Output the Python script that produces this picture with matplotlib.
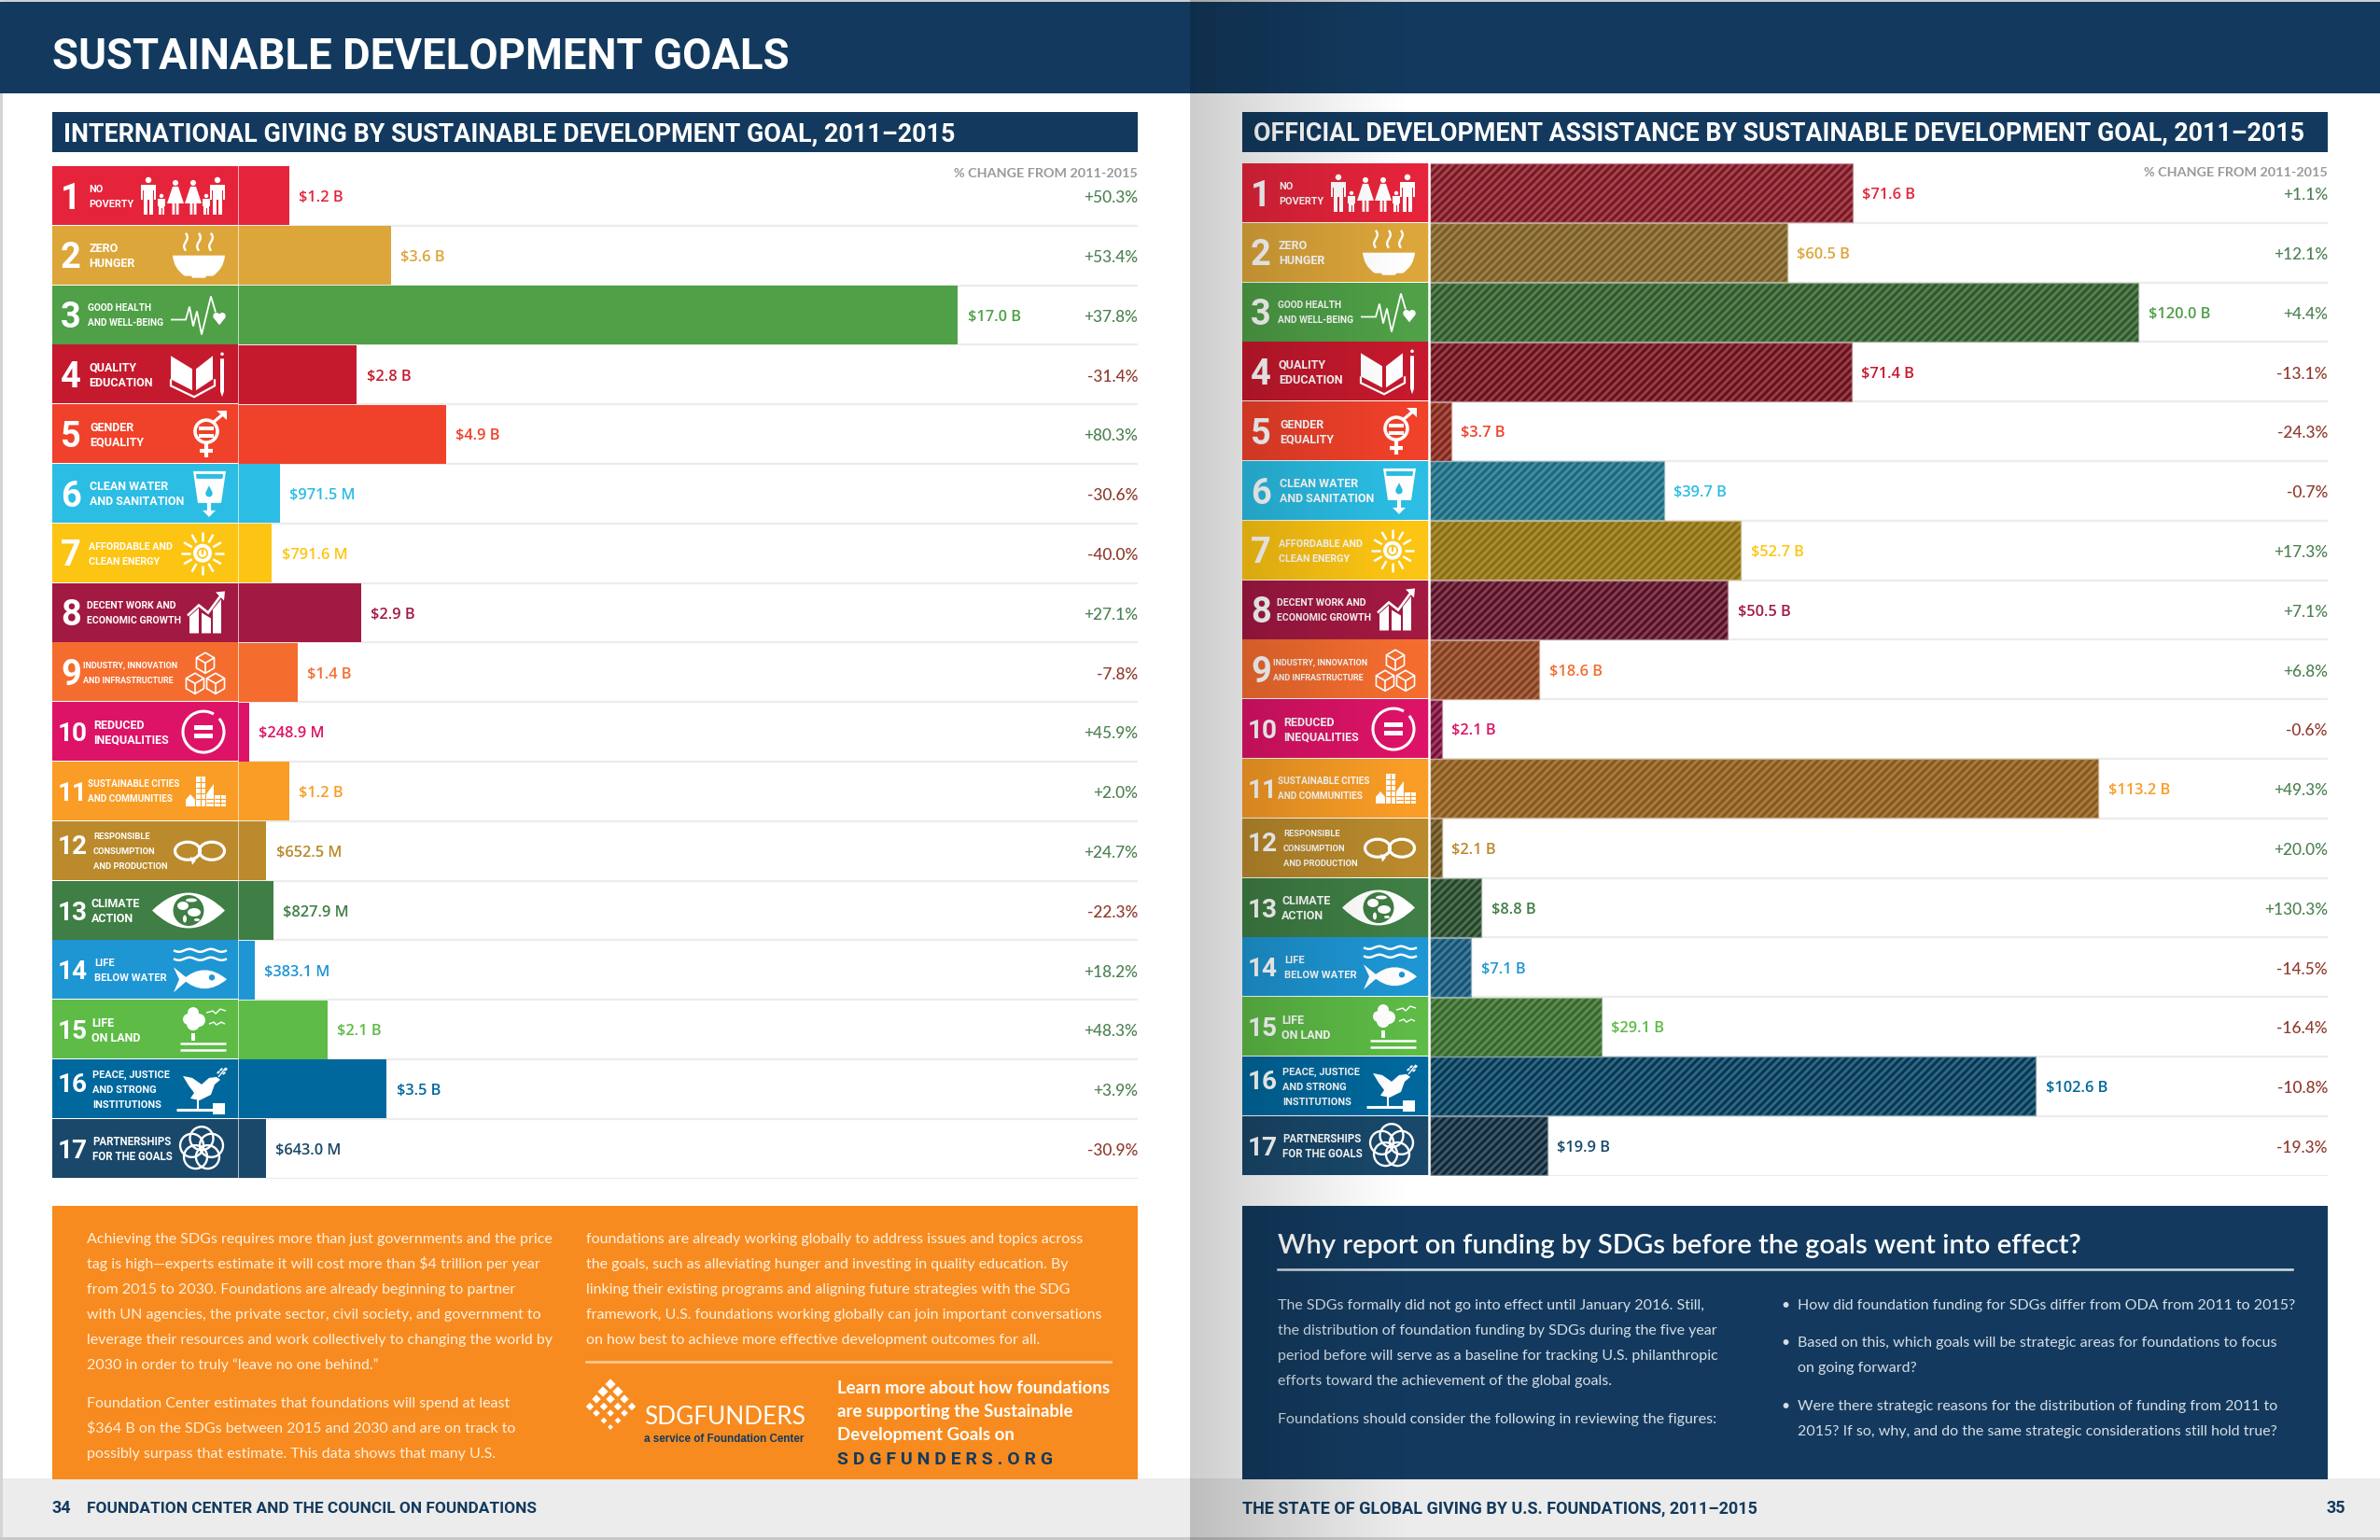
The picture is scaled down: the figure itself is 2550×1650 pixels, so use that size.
import numpy as np
import matplotlib
matplotlib.use("Agg")
import matplotlib.pyplot as plt
from matplotlib.patches import Rectangle, Polygon, Circle, Ellipse, Arc, PathPatch
from matplotlib.path import Path
from matplotlib.transforms import Affine2D

# ---------- data ----------
goal_numbers = list(range(1, 18))
goal_labels = [
    ["NO", "POVERTY"], ["ZERO", "HUNGER"], ["GOOD HEALTH", "AND WELL-BEING"],
    ["QUALITY", "EDUCATION"], ["GENDER", "EQUALITY"], ["CLEAN WATER", "AND SANITATION"],
    ["AFFORDABLE AND", "CLEAN ENERGY"], ["DECENT WORK AND", "ECONOMIC GROWTH"],
    ["INDUSTRY, INNOVATION", "AND INFRASTRUCTURE"], ["REDUCED", "INEQUALITIES"],
    ["SUSTAINABLE CITIES", "AND COMMUNITIES"], ["RESPONSIBLE", "CONSUMPTION", "AND PRODUCTION"],
    ["CLIMATE", "ACTION"], ["LIFE", "BELOW WATER"], ["LIFE", "ON LAND"],
    ["PEACE, JUSTICE", "AND STRONG", "INSTITUTIONS"], ["PARTNERSHIPS", "FOR THE GOALS"],
]
intl_values = [1.2, 3.6, 17.0, 2.8, 4.9, 0.9715, 0.7916, 2.9, 1.4, 0.2489, 1.2, 0.6525, 0.8279, 0.3831, 2.1, 3.5, 0.643]
intl_text = ["$1.2 B", "$3.6 B", "$17.0 B", "$2.8 B", "$4.9 B", "$971.5 M", "$791.6 M", "$2.9 B", "$1.4 B",
             "$248.9 M", "$1.2 B", "$652.5 M", "$827.9 M", "$383.1 M", "$2.1 B", "$3.5 B", "$643.0 M"]
intl_change = [50.3, 53.4, 37.8, -31.4, 80.3, -30.6, -40.0, 27.1, -7.8, 45.9, 2.0, 24.7, -22.3, 18.2, 48.3, 3.9, -30.9]
oda_values = [71.6, 60.5, 120.0, 71.4, 3.7, 39.7, 52.7, 50.5, 18.6, 2.1, 113.2, 2.1, 8.8, 7.1, 29.1, 102.6, 19.9]
oda_change = [1.1, 12.1, 4.4, -13.1, -24.3, -0.7, 17.3, 7.1, 6.8, -0.6, 49.3, 20.0, 130.3, -14.5, -16.4, -10.8, -19.3]

colors = ["#e5243b", "#dda63a", "#4fa047", "#c5192d", "#f0412a", "#2bbde4", "#fdc513", "#a21942", "#f46d2f",
          "#dd1367", "#f99d26", "#ba8a2c", "#3f7e44", "#1e96d4", "#5dbb46", "#00689d", "#19486a"]

# ---------- layout ----------
W, H = 2550, 1650
NAVY = "#133a5e"; ORANGE = "#f78b1f"; FOOT = "#ececec"
POS = "#4d8152"; NEG = "#8f3a2c"
LBL = "Roboto"
ROW_H = 63.8
label_u = [39, 39, 38, 39, 40, 40, 39, 37, 33, 44, 38, 44, 42, 45, 42, 43, 43]
icon_left = [94, 129, 127, 127, 150, 151, 137, 145, 142, 139, 143, 131, 107, 130, 137, 133, 136]
num_dv = {11: -7, 15: -7}

fig = plt.figure(figsize=(W / 100, H / 100), dpi=100, facecolor="white")
ov = fig.add_axes([0, 0, 1, 1], zorder=0)
ov.set_xlim(0, W); ov.set_ylim(H, 0); ov.axis("off"); ov.set_autoscale_on(False)
renderer = fig.canvas.get_renderer()


def T(x, y, s, px=16, color="white", ha="left", family="Lato", weight="normal", width=None, ax=None, zorder=5):
    """text whose vertical centre of capitals is at y; width optionally fits the font size."""
    t = (ax or ov).text(x, y, s, fontsize=px * 0.72, color=color, ha=ha, va="baseline",
                        family=family, fontweight=weight, zorder=zorder)
    if width is not None:
        w = t.get_window_extent(renderer).width
        px = px * width / w
        t.set_fontsize(px * 0.72)
    t.set_y(y + 0.36 * px)
    return px


def rect(x0, y0, x1, y1, c, z=1):
    ov.add_patch(Rectangle((x0, y0), x1 - x0, y1 - y0, fc=c, ec="none", zorder=z))


def fit_px(s, width, family="Lato", weight="normal"):
    t = ov.text(0, 0, s, fontsize=10, family=family, fontweight=weight)
    w = t.get_window_extent(renderer).width
    t.remove()
    return 10 / 0.72 * width / w


# ---------- page furniture ----------
rect(0, 0, W, 2, "#cfcfcf")
rect(0, 0, 3, H, "#d4d4d4")
rect(0, 2, W, 100, NAVY)
rect(3, 1584, W, H - 3, FOOT)
rect(0, H - 3, W, H, "#c8c8c8")
rect(56, 120, 1219, 163, NAVY)
rect(1331, 120, 2494, 163, NAVY)
rect(56, 1292, 1219, 1585, ORANGE, 2)
rect(1331, 1292, 2494, 1585, NAVY, 2)

T(56, 58, "SUSTAINABLE DEVELOPMENT GOALS", 46, weight="bold", family="Roboto", width=791)
T(68, 141.5, "INTERNATIONAL GIVING BY SUSTAINABLE DEVELOPMENT GOAL, 2011–2015", 25, weight="bold",
  family="Roboto", width=957)
T(1343, 141.5, "OFFICIAL DEVELOPMENT ASSISTANCE BY SUSTAINABLE DEVELOPMENT GOAL, 2011–2015", 25, weight="bold",
  family="Roboto", width=1129)


# ---------- icons ----------
def icon(i, x0, cy, col):
    t = Affine2D().translate(x0, cy) + ov.transData

    def poly(pts, fc="white"):
        ov.add_patch(Polygon(pts, closed=True, fc=fc, ec="none", transform=t, zorder=3))

    def circ(x, y, r, fc="white", ec="none", lw=0):
        ov.add_patch(Circle((x, y), r, fc=fc, ec=ec, lw=lw, transform=t, zorder=3))

    def ln(xs, ys, lw=1.5, c="white"):
        ov.plot(xs, ys, color=c, lw=lw, transform=t, zorder=3, solid_capstyle="butt", solid_joinstyle="miter")

    def man(u):
        circ(u, -17, 3.2)
        poly([(u - 8, -12), (u + 8, -12), (u + 8, 4), (u + 6, 4), (u + 6, -6), (u + 5, -6), (u + 5, 20), (u + .7, 20),
              (u + .7, 4), (u - .7, 4), (u - .7, 20), (u - 5, 20), (u - 5, -6), (u - 6, -6), (u - 6, 4), (u - 8, 4)])

    def woman(u):
        circ(u, -14, 3)
        poly([(u - 3, -10), (u + 3, -10), (u + 9, 8), (u + 3.5, 8), (u + 3.5, 20), (u + .7, 20), (u + .7, 8),
              (u - .7, 8), (u - .7, 20), (u - 3.5, 20), (u - 3.5, 8), (u - 9, 8)])

    def kid(u):
        circ(u, 0, 2.2)
        poly([(u - 4, 3), (u + 4, 3), (u + 4, 11), (u + 2.6, 11), (u + 2.6, 20), (u + .5, 20), (u + .5, 13), (u - .5, 13),
              (u - .5, 20), (u - 2.6, 20), (u - 2.6, 11), (u - 4, 11)])

    def heart(u, v, s):
        circ(u - s * .48, v - s * .3, s * .55)
        circ(u + s * .48, v - s * .3, s * .55)
        poly([(u - s, v - .05 * s), (u + s, v - .05 * s), (u, v + 1.2 * s)])

    def drop(u, v, s, fc):
        circ(u, v + s * .3, s * .62, fc=fc)
        poly([(u - s * .55, v), (u + s * .55, v), (u, v - s * 1.1)], fc=fc)

    if i == 0:
        man(103); woman(132); woman(151); man(177); kid(117); kid(165)
    elif i == 1:
        ov.add_patch(PathPatch(Path([(129, 0), (185, 0), (184, 14), (172, 22), (142, 22), (130, 14), (129, 0)],
                                    [1, 2, 3, 3, 2, 3, 3]),
                               fc="white", ec="none", transform=t, zorder=3))
        poly([(148, 20), (166, 20), (164, 24), (150, 24)])
        for u in (143, 157, 170):
            v = np.linspace(-24, -5, 30)
            ln(u + 1.8 * np.sin((v + 24) / 19 * 2 * np.pi), v, 1.7)
    elif i == 2:
        ln([127, 143, 147, 151, 155, 160, 170, 175], [5, 5, -9, 12, -4, 21, -20, -3], 1.3)
        heart(179, 3, 6.5)
    elif i == 3:
        poly([(127, -20), (150, -6), (150, 17), (127, 5)])
        poly([(154, -6), (172, -20), (172, 5), (154, 17)])
        ln([127, 127, 152, 174, 174], [5, 12, 24, 12, 5], 1.6)
        poly([(180, -17), (184, -17), (184, 18), (182, 24), (180, 18)])
        circ(182, -22, 1.8)
    elif i == 4:
        circ(165, -3, 12, fc="none", ec="white", lw=2.6)
        for a, b, c, d in [(157, -8, 173, -4), (157, 0, 173, 4)]:
            poly([(a, b), (c, b), (c, d), (a, d)])
        ln([173, 186], [-13, -24], 2.4)
        poly([(176, -25), (187, -25), (187, -15)])
        ln([165, 165], [9, 25], 3)
        ln([158, 172], [18, 18], 3)
    elif i == 5:
        poly([(151, -24), (186, -24), (181, 10), (156, 10)])
        poly([(154, -21), (183, -21), (182.4, -16), (154.6, -16)], fc=col)
        drop(168, -2, 6, col)
        ln([168, 168], [10, 20], 3)
        poly([(161, 18), (175, 18), (168, 25)])
    elif i == 6:
        for a in np.arange(0, 360, 30):
            r = np.radians(a)
            ln([161 + 13 * np.cos(r), 161 + 23 * np.cos(r)], [13 * np.sin(r), 23 * np.sin(r)], 1.8)
        circ(161, 0, 10)
        circ(161, 0, 6, fc=col)
        circ(161, 0, 4.3)
        ln([161, 161], [-6, 1], 1.5, col)
    elif i == 7:
        poly([(147, 4), (157, -5), (157, 22), (147, 22)])
        poly([(160, 0), (170, 6), (170, 22), (160, 22)])
        poly([(172, -8), (181, -16), (181, 22), (172, 22)])
        ln([145, 157, 167, 183], [3, -8, 0, -20], 2.6, col)
        ln([145, 157, 167, 181], [3, -8, 0, -19], 1.9)
        poly([(175, -22), (185, -23), (184, -13)])
    elif i == 8:
        for u, v in ((164, -10), (153, 12), (175, 12)):
            r = 11
            xs = [u + r * np.cos(np.radians(a)) for a in range(30, 391, 60)]
            ys = [v + r * np.sin(np.radians(a)) for a in range(30, 391, 60)]
            ln(xs, ys, 1.2)
            ln([xs[5], u, xs[3]], [ys[5], v, ys[3]], 1.2)
            ln([u, u], [v, v + r], 1.2)
    elif i == 9:
        ov.add_patch(Arc((162, 0), 44, 44, theta1=-40, theta2=300, color="white", lw=2.2, transform=t, zorder=3))
        poly([(152, -7), (172, -7), (172, -2), (152, -2)])
        poly([(152, 2), (172, 2), (172, 7), (152, 7)])
    elif i == 10:
        poly([(143, 9), (148, 3), (153, 9), (153, 16), (143, 16)])
        poly([(154, -16), (164, -16), (164, 16), (154, 16)])
        poly([(165, 16), (165, 3), (173, -8), (173, 16)])
        poly([(174, 4), (186, 4), (186, 16), (174, 16)])
        for v in (-10, -4, 2, 8):
            ln([154, 164], [v, v], .8, col)
        ln([159, 159], [-16, 16], .8, col)
        for v in (8, 12):
            ln([174, 186], [v, v], .8, col)
            ln([165, 173], [v, v], .8, col)
        ln([180, 180], [4, 16], .8, col)
    elif i == 11:
        ov.add_patch(Ellipse((145, 0), 27, 19, fc="none", ec="white", lw=2.3, transform=t, zorder=3))
        ov.add_patch(Ellipse((171, 0), 27, 19, fc="none", ec="white", lw=2.3, transform=t, zorder=3))
        poly([(148, 6), (154, 10), (150, 15)])
    elif i == 12:
        ov.add_patch(PathPatch(Path([(107, 0), (146, -38), (185, 0), (146, 38), (107, 0)], [1, 3, 3, 3, 3]),
                               fc="white", ec="none", transform=t, zorder=3))
        circ(146, 0, 16.5, fc=col)
        for u, v, a, b in ((140, -5, 12, 9), (152, 2, 14, 9), (149, -11, 12, 4), (142, 9, 4, 8), (155, 10, 6, 3)):
            ov.add_patch(Ellipse((u, v), a, b, fc="white", ec="none", transform=t, zorder=3))
    elif i == 13:
        for v0 in (-21, -12):
            u = np.linspace(130, 187, 60)
            ln(u, v0 + 1.5 * np.sin((u - 130) / 57 * 5 * np.pi), 1.8)
        ov.add_patch(PathPatch(Path([(140, 10), (163, -10), (187, 10), (163, 30), (140, 10)], [1, 3, 3, 3, 3]),
                               fc="white", ec="none", transform=t, zorder=3))
        poly([(130, -3), (146, 10), (130, 24), (136, 10)])
        circ(171, 8, 3.2, fc=col)
    elif i == 14:
        for u, v, r in ((151, -18, 6), (146, -11, 6), (157, -10, 7), (151, -6, 7)):
            circ(u, v, r)
        poly([(149, 4), (153, 4), (153, 12), (149, 12)])
        ln([137, 186], [15, 15], 1.8)
        ln([137, 186], [22, 22], 1.8)
        ln([165, 172, 175, 180, 186], [-18, -20, -17, -22, -20], 1)
        ln([168, 173, 176, 181, 185], [-6, -8, -5, -8, -6], 1)
    elif i == 15:
        poly([(140, -14), (150, -12), (160, -5), (168, -12), (176, -13), (180, -10), (174, -5), (170, 6), (158, 12),
              (148, 10), (152, 4), (146, -4)])
        ln([178, 186], [-13, -23], 1)
        for u, v in ((181, -21), (184, -17), (178, -18), (186, -21)):
            ov.add_patch(Ellipse((u, v), 4, 2.2, angle=-40, fc="white", ec="none", transform=t, zorder=3))
        ln([156, 156], [11, 21], 1.5)
        ln([133, 172], [22, 22], 2.2)
        poly([(172, 15), (185, 15), (185, 27), (172, 27)])
    else:
        for a in range(90, 450, 72):
            r = np.radians(a)
            ov.add_patch(Circle((160 + 11 * np.cos(r), -11 * np.sin(r)), 12.5, fc="none", ec="white", lw=1.7,
                                transform=t, zorder=3))


def goal_column(x0, y0):
    rect(x0, y0, x0 + 200, y0 + 17 * ROW_H, "white", 1)
    for i, c in enumerate(colors):
        top = y0 + i * ROW_H
        cy = top + ROW_H / 2
        rect(x0, top, x0 + 200, top + ROW_H - .8, c, 2)
        n = str(goal_numbers[i])
        T(x0 + (20 if i < 9 else 22), cy + num_dv.get(i, 0), n, 38 if i < 9 else 28, ha="center",
          family=LBL, weight="bold")
        lines = goal_labels[i]
        room = icon_left[i] - label_u[i] - 7
        px = min(12.5, min(fit_px(s, room, LBL, "bold") for s in lines))
        off = (len(lines) - 1) * 16 / 2
        for k, s in enumerate(lines):
            T(x0 + label_u[i], cy - off + 16 * k, s, px, family=LBL, weight="bold")
        icon(i, x0, cy, c)


goal_column(56, 178)
goal_column(1331, 175)

# ---------- charts ----------
plt.rcParams["hatch.linewidth"] = 2.0


def to_rgb(c):
    return np.array(matplotlib.colors.to_rgb(c))


def chart(left, right, top, scale):
    ax = fig.add_axes([left / W, 1 - (top + 17 * ROW_H) / H, (right - left) / W, 17 * ROW_H / H], zorder=1)
    ax.set_xlim(0, (right - left) / scale)
    ax.set_ylim(17, 0)
    ax.axis("off")
    ax.patch.set_visible(False)
    ax.hlines(np.arange(1, 18), 0, 1, transform=ax.get_yaxis_transform(), color="#ececec", lw=1.6, zorder=0)
    return ax


ypos = np.arange(17) + 0.5
DY = 0.035   # text optical centring within a row

ax1 = chart(255.5, 1219, 178, 45.35)
ax1.barh(ypos, intl_values, height=0.985, color=colors, zorder=2)
for y, v, s, c, p in zip(ypos, intl_values, intl_text, colors, intl_change):
    ax1.annotate(s, (v, y + DY), xytext=(7.5, 0), textcoords="offset points", color=c, fontsize=11.8, va="center",
                 family="Open Sans", fontweight="semibold", zorder=4)
    ax1.text(1.0, y + DY, f"{p:+.1f}%", transform=ax1.get_yaxis_transform(), ha="right", va="center",
             color=POS if p > 0 else NEG, fontsize=12.4, family="Lato", fontweight="medium", zorder=4)
ax1.text(1.0, 0.13, "% CHANGE FROM 2011-2015", transform=ax1.get_yaxis_transform(), ha="right", va="center",
         color="#9a9a9a", fontsize=10.4, family="Lato", fontweight="bold", zorder=4)

ax2 = chart(1531.5, 2494, 175, 6.333)
dark = [to_rgb(c) * 0.56 for c in colors]
light = [d * 0.78 + 0.22 for d in dark]
ax2.barh(ypos, oda_values, height=0.985, color=dark, edgecolor=light, hatch="////", linewidth=0, zorder=2)
ax2.barh(ypos, oda_values, height=0.985, fill=False, edgecolor=[d * 0.5 + 0.5 for d in dark], linewidth=0.9, zorder=3)
for y, v, c, p in zip(ypos, oda_values, colors, oda_change):
    ax2.annotate(f"${v:.1f} B", (v, y + DY), xytext=(7.5, 0), textcoords="offset points", color=c, fontsize=11.8,
                 va="center", family="Open Sans", fontweight="semibold", zorder=4)
    ax2.text(1.0, y + DY, f"{p:+.1f}%", transform=ax2.get_yaxis_transform(), ha="right", va="center",
             color=POS if p > 0 else NEG, fontsize=12.4, family="Lato", fontweight="medium", zorder=4)
ax2.text(1.0, 0.16, "% CHANGE FROM 2011-2015", transform=ax2.get_yaxis_transform(), ha="right", va="center",
         color="#9a9a9a", fontsize=10.4, family="Lato", fontweight="bold", zorder=4)

# white dividers between the block and the bar
for x, y0 in ((255.5, 178), (1531, 175)):
    ov.plot([x, x], [y0, y0 + 17 * ROW_H], color="white", lw=1.1, zorder=4)
for ax in (ax1, ax2):
    ax.vlines(0, 0, 17, color="white", lw=1.1, alpha=.85, zorder=5)

# ---------- text panels ----------
left1 = ["Achieving the SDGs requires more than just governments and the price",
         "tag is high—experts estimate it will cost more than $4 trillion per year",
         "from 2015 to 2030. Foundations are already beginning to partner",
         "with UN agencies, the private sector, civil society, and government to",
         "leverage their resources and work collectively to changing the world by",
         "2030 in order to truly “leave no one behind.”"]
left2 = ["Foundation Center estimates that foundations will spend at least",
         "$364 B on the SDGs between 2015 and 2030 and are on track to",
         "possibly surpass that estimate. This data shows that many U.S."]
left3 = ["foundations are already working globally to address issues and topics across",
         "the goals, such as alleviating hunger and investing in quality education. By",
         "linking their existing programs and aligning future strategies with the SDG",
         "framework, U.S. foundations working globally can join important conversations",
         "on how best to achieve more effective development outcomes for all."]
PEACH = "#fff0e0"
bpx = fit_px(left1[0], 500)
for k, s in enumerate(left1):
    T(93, 1326 + 27 * k, s, bpx, color=PEACH, zorder=6)
for k, s in enumerate(left2):
    T(93, 1502 + 27 * k, s, bpx, color=PEACH, zorder=6)
for k, s in enumerate(left3):
    T(628, 1326 + 27 * k, s, bpx, color=PEACH, zorder=6)
ov.plot([628, 1190], [1459, 1459], color="#fcc68f", lw=2, zorder=6)

for row, (y, xs) in enumerate(((1483, [654]), (1491, [646, 662]), (1499, [639, 654, 669]),
                               (1507, [632, 647, 662, 677]), (1514, [639, 654, 669]),
                               (1522, [647, 662]), (1529, [654]))):
    for x in xs:
        r = 5.6 - 0.45 * row if row > 1 else 5.6
        ov.add_patch(Polygon([(x - r, y), (x, y - r), (x + r, y), (x, y + r)], fc="white", ec="none", zorder=6))
T(690, 1517, "SDGFUNDERS", 28, family="Lato", weight="normal", width=173, color="white", zorder=6)
T(690, 1541, "a service of Foundation Center", 11, family="Liberation Sans", weight="bold", width=171, color=NAVY, zorder=6)

learn = ["Learn more about how foundations", "are supporting the Sustainable", "Development Goals on"]
lpx = fit_px(learn[0], 293, "Lato", "bold")
for k, s in enumerate(learn):
    T(897, 1486 + 25 * k, s, lpx, family="Lato", weight="bold", zorder=6)
T(897, 1562, "S D G F U N D E R S . O R G", 17, family="Roboto", weight="bold", color=NAVY, width=231, zorder=6)

T(1369, 1332, "Why report on funding by SDGs before the goals went into effect?", 30, family="Lato",
  weight="semibold", width=860, zorder=6)
ov.plot([1369, 2456], [1360, 1360], color="#d8dde3", lw=1.8, zorder=6)
right1 = ["The SDGs formally did not go into effect until January 2016. Still,",
          "the distribution of foundation funding by SDGs during the five year",
          "period before will serve as a baseline for tracking U.S. philanthropic",
          "efforts toward the achievement of the global goals."]
SOFT = "#d6dde5"
for k, s in enumerate(right1):
    T(1369, 1397 + 27 * k, s, bpx, color=SOFT, zorder=6)
T(1369, 1519, "Foundations should consider the following in reviewing the figures:", bpx, color=SOFT, zorder=6)
right2 = [(1397, "How did foundation funding for SDGs differ from ODA from 2011 to 2015?", True),
          (1437, "Based on this, which goals will be strategic areas for foundations to focus", True),
          (1464, "on going forward?", False),
          (1505, "Were there strategic reasons for the distribution of funding from 2011 to", True),
          (1532, "2015? If so, why, and do the same strategic considerations still hold true?", False)]
for y, s, b in right2:
    if b:
        T(1913, y, "•", bpx, color=SOFT, ha="center", zorder=6)
    T(1926, y, s, bpx, color=SOFT, zorder=6)

# ---------- footer ----------
T(56, 1615, "34", 18, color=NAVY, family="Roboto", weight="bold")
T(93, 1615, "FOUNDATION CENTER AND THE COUNCIL ON FOUNDATIONS", 18, color=NAVY, family="Roboto", weight="bold", width=480)
T(1331, 1615, "THE STATE OF GLOBAL GIVING BY U.S. FOUNDATIONS, 2011–2015", 18, color=NAVY, family="Roboto",
  weight="bold", width=551)
T(2513, 1615, "35", 18, color=NAVY, family="Roboto", weight="bold", ha="right")

# ---------- gutter shadow across the right-hand page ----------
sh = fig.add_axes([1275 / W, 0, 240 / W, 1], zorder=8)
sh.axis("off")
g = np.zeros((1, 240, 4))
g[0, :, 3] = 0.2 * (1 - np.linspace(0, 1, 240)) ** 1.2
sh.imshow(g, aspect="auto", interpolation="bilinear")

fig.savefig("out.png", dpi=100, facecolor="white")
